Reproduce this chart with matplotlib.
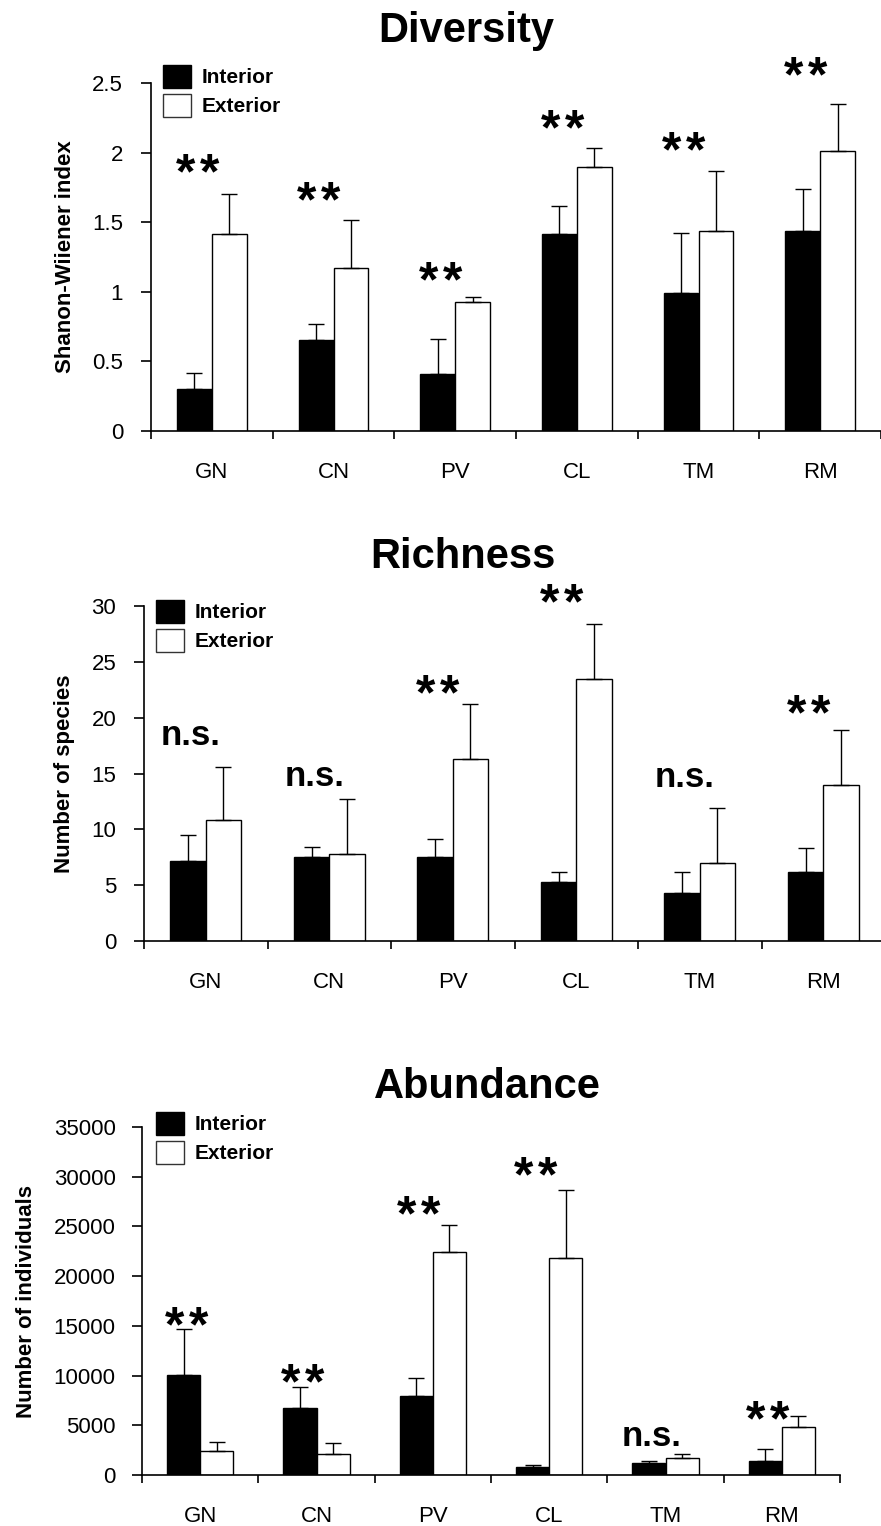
import numpy as np
import matplotlib
matplotlib.use("Agg")
import matplotlib.pyplot as plt
from matplotlib.patches import Patch

plt.rcParams['font.family'] = ['Liberation Sans', 'DejaVu Sans']

sites = ["GN", "CN", "PV", "CL", "TM", "RM"]

# Shannon-Wiener diversity (mean, upper error)
div_int = [0.30, 0.655, 0.41, 1.415, 0.99, 1.435]
div_int_err = [0.12, 0.115, 0.25, 0.20, 0.43, 0.305]
div_ext = [1.415, 1.17, 0.925, 1.90, 1.435, 2.01]
div_ext_err = [0.285, 0.345, 0.035, 0.13, 0.435, 0.34]
div_sig = ["**", "**", "**", "**", "**", "**"]
div_sig_y = [1.91, 1.71, 1.135, 2.23, 2.07, 2.61]

# species richness
rich_int = [7.2, 7.55, 7.55, 5.25, 4.27, 6.2]
rich_int_err = [2.26, 0.9, 1.6, 0.95, 1.9, 2.1]
rich_ext = [10.8, 7.8, 16.3, 23.45, 7.0, 14.0]
rich_ext_err = [4.8, 4.9, 4.9, 4.95, 4.9, 4.9]
rich_sig = ["n.s.", "n.s.", "**", "**", "n.s.", "**"]
rich_sig_y = [18.4, 14.7, 22.9, 31.0, 14.6, 21.1]

# abundance
abun_int = [10100, 6700, 7970, 840, 1240, 1400]
abun_int_err = [4600, 2170, 1810, 160, 160, 1210]
abun_ext = [2440, 2080, 22380, 21840, 1740, 4860]
abun_ext_err = [900, 1100, 2740, 6800, 340, 1070]
abun_sig = ["**", "**", "**", "**", "n.s.", "**"]
abun_sig_y = [15800, 10050, 26960, 30880, 3850, 6360]

W, H = 881, 1526
fig = plt.figure(figsize=(W / 100, H / 100), dpi=100)


def px_axes(left, right, y0, ytop):
    return fig.add_axes([left / W, 1 - y0 / H, (right - left) / W, (y0 - ytop) / H])


def panel(ax, title, title_xy, inter, inter_err, exter, exter_err, sig, sig_y,
          ymax, ystep, ylabel, ytick_fmt, leg_xy, ypad):
    x = np.arange(len(sites))
    bw = 1 / 3.5
    ekw = dict(elinewidth=1.0, capthick=1.0, ecolor='black')
    ax.bar(x - bw / 2, inter, bw, color='black', edgecolor='black', linewidth=1.0,
           yerr=[np.zeros(len(inter)), inter_err], capsize=5.5, error_kw=ekw, zorder=2)
    ax.bar(x + bw / 2, exter, bw, color='white', edgecolor='black', linewidth=1.0,
           yerr=[np.zeros(len(exter)), exter_err], capsize=5.5, error_kw=ekw, zorder=2)

    ax.set_xlim(-0.5, 5.5)
    ax.set_ylim(0, ymax)
    for s in ['top', 'right']:
        ax.spines[s].set_visible(False)
    for s in ['left', 'bottom']:
        ax.spines[s].set_linewidth(1.2)

    ax.set_xticks(np.arange(-0.5, 5.6, 1.0))
    ax.set_xticklabels([])
    ax.set_xticks(x, minor=True)
    ax.set_xticklabels(sites, minor=True, fontsize=16)
    ax.tick_params(axis='x', which='major', direction='out', length=6, width=1.2)
    ax.tick_params(axis='x', which='minor', length=0, pad=22)

    yt = np.arange(0, ymax + ystep / 2, ystep)
    ax.set_yticks(yt)
    ax.set_yticklabels([ytick_fmt(v) for v in yt], fontsize=16)
    ax.tick_params(axis='y', direction='out', length=7, width=1.2, pad=ypad)
    ax.set_ylabel(ylabel, fontsize=16, fontweight='bold', labelpad=12)

    for xi, s, yv in zip(x, sig, sig_y):
        if s == "**":
            # two stars drawn apart, a bit wider than the font's own spacing
            for dx in (-8.6, 8.6):
                ax.annotate("*", xy=(xi - 0.12, yv), xytext=(dx, -17),
                            textcoords='offset points', ha='center', va='baseline',
                            fontsize=36, fontweight='bold', annotation_clip=False)
        else:
            ax.annotate(s, xy=(xi - 0.12, yv), xytext=(0, -6.5), textcoords='offset points',
                        ha='center', va='baseline', fontsize=25, fontweight='bold',
                        annotation_clip=False)

    handles = [Patch(facecolor='black', edgecolor='black', linewidth=1.0),
               Patch(facecolor='white', edgecolor='#333333', linewidth=1.0)]
    fig.legend(handles, ["Interior", "Exterior"], loc='upper left',
               bbox_to_anchor=(leg_xy[0] / W, 1 - leg_xy[1] / H),
               frameon=False, prop=dict(size=15, weight='bold'),
               handlelength=1.35, handleheight=1.3, handletextpad=0.5,
               labelspacing=0.3, borderpad=0, borderaxespad=0)

    fig.text(title_xy[0] / W, 1 - title_xy[1] / H, title, ha='center', va='center',
             fontsize=30, fontweight='bold')


def fmt_dec(v):
    return f"{v:g}"


ax1 = px_axes(151, 881, 431, 83)
panel(ax1, "Diversity", (466, 31), div_int, div_int_err, div_ext, div_ext_err,
      div_sig, div_sig_y, 2.5, 0.5, "Shanon-Wiiener index", fmt_dec, (163, 65), 13)

ax2 = px_axes(144, 885, 941, 606)
panel(ax2, "Richness", (463, 557), rich_int, rich_int_err, rich_ext, rich_ext_err,
      rich_sig, rich_sig_y, 30, 5, "Number of species", fmt_dec, (156, 600), 13)

ax3 = px_axes(142, 840, 1475, 1127)
panel(ax3, "Abundance", (487, 1087), abun_int, abun_int_err, abun_ext, abun_ext_err,
      abun_sig, abun_sig_y, 35000, 5000, "Number of individuals", lambda v: f"{int(v)}",
      (156, 1112), 12)

fig.savefig("out.png", dpi=100)
